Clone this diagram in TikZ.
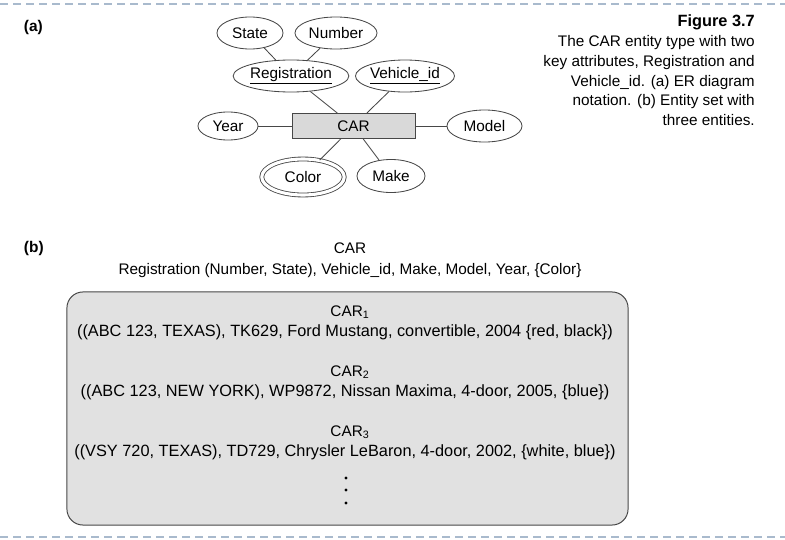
\documentclass[tikz,border=0pt]{standalone}
\usepackage{fontspec}
\setmainfont{Liberation Sans}
\usetikzlibrary{shapes.geometric}
\definecolor{boxgray}{HTML}{D9D9D9}
\definecolor{setgray}{HTML}{E1E1E1}
\definecolor{rulecol}{HTML}{A9BACD}
\definecolor{edgecol}{HTML}{474747}

\begin{document}
\begin{tikzpicture}[x=0.025cm,y=-0.025cm,
        every node/.style={font=\fontsize{10.9}{14.2}\selectfont},
        attr/.style={ellipse,draw=edgecol,line width=0.6pt,inner sep=0pt,minimum height=0.8cm},
        ent/.style={rectangle,draw=edgecol,fill=boxgray,line width=0.6pt,minimum width=3.075cm,minimum height=0.625cm},
        setbox/.style={rectangle,draw=edgecol,fill=setgray,line width=0.7pt,rounded corners=0.4cm,minimum width=14.025cm,minimum height=5.825cm},
        rowtext/.style={font=\fontsize{11.6}{14.2}\selectfont},
        link/.style={draw=edgecol,line width=0.6pt},
        rule/.style={draw=rulecol,line width=1.1pt,dash pattern=on 0.2cm off 0.125cm},
        tag/.style={anchor=west,font=\fontsize{11}{13}\selectfont\bfseries}]
        \useasboundingbox (0,0) rectangle (785,540);
        %Traits pointilles
        \draw[rule] (0,4) -- (785,4);
        \draw[rule] (0,537) -- (785,537);
        %(a) Diagramme ER
        \node[tag] (taga) at (19,27) {(a)};
        \node[attr,minimum width=1.65cm] (state) at (250,33) {State};
        \node[attr,minimum width=2.05cm] (number) at (336,33) {Number};
        \node[attr,minimum width=2.775cm] (reg) at (291,76) {\underline{Registration}};
        \node[attr,minimum width=2.475cm] (vid) at (405,76) {\underline{Vehicle\_id}};
        \node[ent] (car) at (353.5,126) {CAR};
        \node[attr,minimum width=1.5cm,minimum height=0.7cm] (year) at (228,126) {Year};
        \node[attr,minimum width=1.875cm] (model) at (484.5,126) {Model};
        \node[attr,double,double distance=2.2pt,minimum width=2.06cm,minimum height=0.9cm] (color) at (303,177) {Color};
        \node[attr,minimum width=1.7cm,minimum height=0.825cm] (make) at (391,176) {Make};
        %Traits
        \draw[link] (state) -- (reg);
        \draw[link] (number) -- (reg);
        \draw[link] (reg) -- (car);
        \draw[link] (vid) -- (car);
        \draw[link] (year) -- (car);
        \draw[link] (car) -- (model);
        \draw[link] (car) -- (color);
        \draw[link] (car) -- (make);
        %Legende
        \node[anchor=north east,align=right,inner sep=0pt] (caption) at (755,14)
            {{\fontsize{11.6}{14.2}\selectfont\bfseries Figure 3.7}\\The CAR entity type with two\\key attributes, Registration and\\Vehicle\_id. (a) ER diagram\\notation. (b) Entity set with\\three entities.};
        %(b) Ensemble d'entites
        \node[tag] (tagb) at (19,248) {(b)};
        \node (settitle) at (350,248) {CAR};
        \node (setattrs) at (350,271) {Registration (Number, State), Vehicle\_id, Make, Model, Year, \{Color\}};
        \node[setbox] (entset) at (347.5,408.5) {};
        \node (car1) at (350,312) {CAR\textsubscript{1}};
        \node[rowtext] (row1) at (345,332) {((ABC 123, TEXAS), TK629, Ford Mustang, convertible, 2004 \{red, black\})};
        \node (car2) at (350,372) {CAR\textsubscript{2}};
        \node[rowtext] (row2) at (345,392) {((ABC 123, NEW YORK), WP9872, Nissan Maxima, 4-door, 2005, \{blue\})};
        \node (car3) at (350,432) {CAR\textsubscript{3}};
        \node[rowtext] (row3) at (345,452) {((VSY 720, TEXAS), TD729, Chrysler LeBaron, 4-door, 2002, \{white, blue\})};
        %Points
        \foreach \y in {478,490,503} \fill (346,\y) circle (1.2pt);
\end{tikzpicture}
\end{document}
